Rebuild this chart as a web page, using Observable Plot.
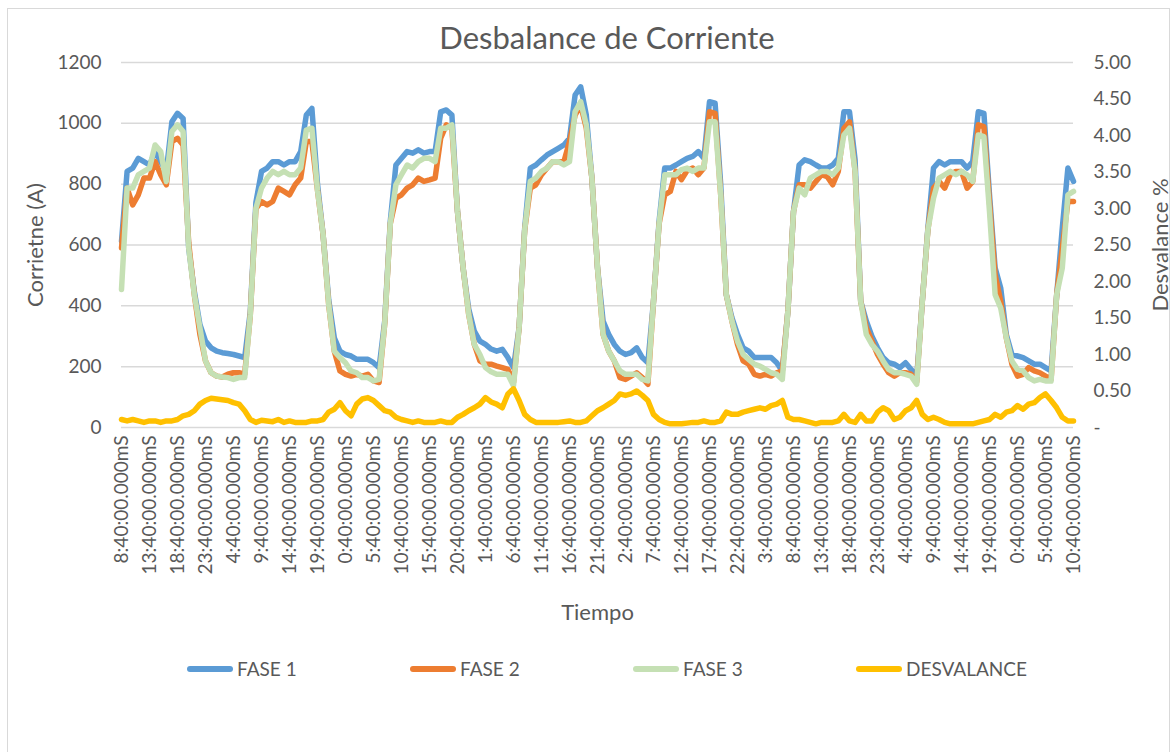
<!DOCTYPE html>
<html><head><meta charset="utf-8">
<script src="https://cdn.jsdelivr.net/npm/d3@7"></script>
<script src="https://cdn.jsdelivr.net/npm/@observablehq/plot@0.6"></script>
<style>
body{margin:0;background:#fff;font-family:Lato, sans-serif;overflow:hidden;}
#wrap{position:relative;width:1176px;height:752px;}
#frame{position:absolute;left:7px;top:8px;width:1163px;height:800px;border:1px solid #d9d9d9;box-sizing:border-box;}
#title{position:absolute;left:19px;top:17px;width:1176px;text-align:center;font-size:31px;color:#595959;line-height:40px;}
#chart{position:absolute;left:0;top:52px;}
#legend{position:absolute;left:187px;top:657px;display:flex;}
.item{width:223px;display:flex;align-items:center;font-size:19px;color:#595959;line-height:24px;}
.sw{width:46px;height:6px;border-radius:3px;margin-right:4px;}
</style></head>
<body>
<div id="wrap">
<div id="frame"></div>
<div id="title">Desbalance de Corriente</div>
<div id="chart"></div>
<div id="legend"></div>
</div>
<script>
// Hours elapsed since the first sample (8:40), one reading per hour
const seriesNames = ["FASE 1", "FASE 2", "FASE 3", "DESVALANCE"];
const seriesColors = ["#5b9bd5", "#ed7d31", "#c5e0b4", "#ffc000"];

const fase1 = [612,842,853,885,874,863,907,874,842,1005,
 1033,1016,590,448,339,284,262,251,246,243,
 240,235,230,380,740,842,853,874,874,863,
 874,874,907,1027,1049,800,634,420,295,251,
 240,235,224,224,224,213,197,350,678,863,
 885,907,902,913,902,907,907,1038,1044,1027,
 710,525,390,317,284,273,258,251,257,230,
 197,328,656,853,863,880,896,907,918,929,
 951,1093,1120,1027,820,525,350,306,273,251,
 240,246,262,230,213,415,678,853,853,863,
 874,885,891,907,885,1071,1066,800,437,361,
 306,262,251,230,230,230,230,213,186,383,
 710,863,880,874,863,853,853,863,885,1038,
 1038,880,415,350,300,262,230,213,208,197,
 213,191,164,415,656,853,874,863,874,874,
 874,853,874,1038,1033,765,525,459,306,240,
 235,230,219,208,208,197,186,437,656,853,
 809];

const fase2 = [590,787,732,765,820,820,874,831,798,940,
 951,929,607,437,306,219,180,169,166,175,
 180,180,175,370,720,743,732,743,787,776,
 765,798,820,940,940,780,634,404,251,186,
 175,169,175,169,175,153,148,340,670,754,
 765,787,798,820,809,814,820,951,995,984,
 710,525,372,273,219,208,208,202,197,191,
 148,328,650,787,798,831,853,874,874,874,
 940,1027,1060,984,820,525,306,251,219,164,
 158,169,180,164,142,415,670,765,776,842,
 815,845,853,831,853,1038,1033,765,437,350,
 273,219,208,175,169,175,169,180,186,383,
 710,798,798,787,809,831,825,798,842,984,
 1005,842,415,328,284,240,208,180,169,180,
 180,175,150,415,650,787,809,787,831,842,
 842,787,809,995,989,740,503,415,295,208,
 169,175,197,186,180,169,158,437,590,743,
 743];

const fase3 = [454,787,787,831,842,853,929,907,809,973,
 995,973,590,437,328,219,180,169,166,164,
 158,164,164,370,720,787,820,842,831,842,
 831,831,853,978,984,780,634,404,251,230,
 213,186,180,164,164,153,158,340,670,798,
 831,863,853,874,885,885,874,984,984,995,
 710,525,372,273,240,197,183,175,175,175,
 137,328,650,809,820,842,853,874,874,863,
 874,1038,1071,995,820,525,306,251,219,186,
 175,175,175,158,153,415,670,831,831,831,
 848,853,842,853,853,1005,1005,765,437,350,
 284,240,224,208,202,191,180,175,158,383,
 710,787,765,820,831,842,842,831,853,962,
 984,842,415,306,273,251,219,191,180,180,
 175,169,142,415,650,754,820,831,842,831,
 842,831,809,962,956,710,437,393,295,219,
 191,186,164,153,158,153,153,437,525,765,
 776];

const desvalance = [0.11,0.09,0.11,0.09,0.07,0.09,0.09,0.07,0.09,0.09,
 0.11,0.16,0.18,0.23,0.32,0.37,0.40,0.39,0.38,0.37,
 0.34,0.32,0.23,0.11,0.07,0.10,0.09,0.08,0.11,0.07,
 0.09,0.07,0.07,0.07,0.09,0.09,0.11,0.21,0.25,0.34,
 0.23,0.16,0.32,0.39,0.41,0.37,0.30,0.23,0.21,0.14,
 0.11,0.09,0.07,0.09,0.07,0.07,0.07,0.09,0.07,0.07,
 0.14,0.18,0.23,0.27,0.32,0.41,0.35,0.32,0.27,0.46,
 0.53,0.37,0.18,0.11,0.07,0.07,0.07,0.07,0.07,0.08,
 0.09,0.07,0.07,0.09,0.16,0.23,0.27,0.32,0.37,0.46,
 0.44,0.46,0.50,0.44,0.37,0.18,0.11,0.07,0.05,0.05,
 0.05,0.06,0.07,0.07,0.09,0.07,0.07,0.09,0.21,0.18,
 0.18,0.21,0.23,0.25,0.27,0.25,0.30,0.32,0.37,0.14,
 0.11,0.11,0.09,0.07,0.05,0.07,0.07,0.07,0.09,0.18,
 0.09,0.07,0.18,0.09,0.09,0.21,0.27,0.23,0.11,0.14,
 0.23,0.27,0.37,0.18,0.11,0.14,0.11,0.07,0.05,0.05,
 0.05,0.05,0.05,0.07,0.09,0.11,0.18,0.14,0.21,0.23,
 0.30,0.25,0.32,0.34,0.41,0.46,0.37,0.27,0.14,0.09,
 0.09];

const timeLabels = ["8:40:00.000mS","13:40:00.000mS","18:40:00.000mS","23:40:00.000mS","4:40:00.000mS",
 "9:40:00.000mS","14:40:00.000mS","19:40:00.000mS","0:40:00.000mS","5:40:00.000mS",
 "10:40:00.000mS","15:40:00.000mS","20:40:00.000mS","1:40:00.000mS","6:40:00.000mS",
 "11:40:00.000mS","16:40:00.000mS","21:40:00.000mS","2:40:00.000mS","7:40:00.000mS",
 "12:40:00.000mS","17:40:00.000mS","22:40:00.000mS","3:40:00.000mS","8:40:00.000mS",
 "13:40:00.000mS","18:40:00.000mS","23:40:00.000mS","4:40:00.000mS","9:40:00.000mS",
 "14:40:00.000mS","19:40:00.000mS","0:40:00.000mS","5:40:00.000mS","10:40:00.000mS"];
const labelStepHours = 5;

const leftTicks = [0, 200, 400, 600, 800, 1000, 1200];
const leftTickLabels = ["0", "200", "400", "600", "800", "1000", "1200"];
const rightTickValues = [0, 0.5, 1, 1.5, 2, 2.5, 3, 3.5, 4, 4.5, 5];
const rightTickLabels = ["-","0.50","1.00","1.50","2.00","2.50","3.00","3.50","4.00","4.50","5.00"];

const leftMax = 1200, rightMax = 5;
const k = leftMax / rightMax; // secondary axis mapped onto primary scale

const mk = (arr, name, scale = 1) => arr.map((v, i) => ({h: i, v: v * scale, raw: v, s: name}));
const rows1 = mk(fase1, seriesNames[0]);
const rows2 = mk(fase2, seriesNames[1]);
const rows3 = mk(fase3, seriesNames[2]);
const rows4 = mk(desvalance, seriesNames[3], k);

const xTicks = timeLabels.map((_, i) => i * labelStepHours);
const rightPos = rightTickValues.map(v => v * k);

const lineOpts = (c) => ({x: "h", y: "v", stroke: c, strokeWidth: 5.5, strokeLinejoin: "round", strokeLinecap: "round"});

const chart = Plot.plot({
  width: 1176, height: 580,
  marginTop: 10, marginBottom: 205, marginLeft: 121, marginRight: 103,
  style: {fontFamily: "Lato, sans-serif", fontSize: "19px", color: "#595959", background: "transparent", overflow: "visible"},
  x: {domain: [0, fase1.length - 1]},
  y: {domain: [0, leftMax]},
  marks: [
    Plot.gridY(leftTicks, {stroke: "#d9d9d9", strokeOpacity: 1, strokeWidth: 1.5}),
    Plot.axisY(leftTicks, {anchor: "left", tickSize: 0, tickPadding: 20, label: null,
      tickFormat: d => leftTickLabels[leftTicks.indexOf(d)]}),
    Plot.axisY(rightPos, {anchor: "right", tickSize: 0, tickPadding: 20, label: null,
      tickFormat: d => rightTickLabels[rightPos.indexOf(d)]}),
    Plot.axisX(xTicks, {anchor: "bottom", tickSize: 0, tickPadding: 8, tickRotate: -90, label: null,
      tickFormat: d => timeLabels[d / labelStepHours]}),
    Plot.line(rows1, lineOpts(seriesColors[0])),
    Plot.line(rows2, lineOpts(seriesColors[1])),
    Plot.line(rows3, lineOpts(seriesColors[2])),
    Plot.line(rows4, lineOpts(seriesColors[3])),
    Plot.text(["Corrietne (A)"], {text: d => d, frameAnchor: "left", dx: -86, rotate: -90, textAnchor: "middle", lineAnchor: "middle", fontSize: 22, fill: "#595959"}),
    Plot.text(["Desvalance %"], {text: d => d, frameAnchor: "right", dx: 87, rotate: -90, textAnchor: "middle", lineAnchor: "middle", fontSize: 22, fill: "#595959"}),
    Plot.text(["Tiempo"], {text: d => d, frameAnchor: "bottom", dy: 185, textAnchor: "middle", lineAnchor: "middle", fontSize: 22, fill: "#595959"})
  ]
});
document.getElementById("chart").appendChild(chart);

const legend = document.getElementById("legend");
seriesNames.forEach((n, i) => {
  const it = document.createElement("div");
  it.className = "item";
  it.innerHTML = `<span class="sw" style="background:${seriesColors[i]}"></span><span>${n}</span>`;
  legend.appendChild(it);
});
</script>
</body></html>
